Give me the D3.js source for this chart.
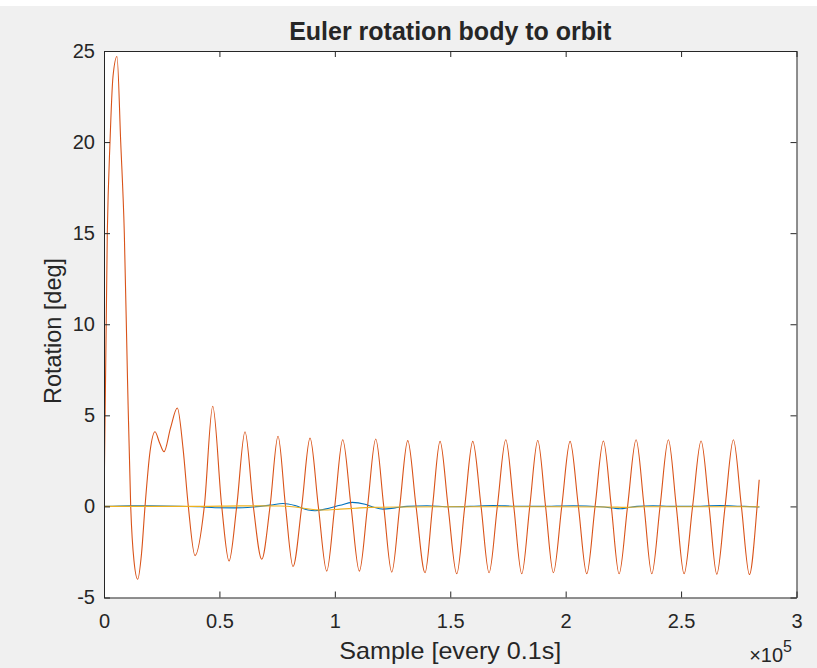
<!DOCTYPE html>
<html><head><meta charset="utf-8">
<script src="https://cdn.jsdelivr.net/npm/d3@7"></script>
<style>
html,body{margin:0;padding:0;background:#ffffff;}
svg{display:block;}
text{font-family:"Liberation Sans",Arial,Helvetica,sans-serif;fill:#262626;}
</style></head>
<body><svg id="chart" width="817" height="668"></svg>
<script>
// ---- data (x in samples, y in degrees) ----
const xTicks = [0, 50000, 100000, 150000, 200000, 250000, 300000];
const xTickLabels = ["0", "0.5", "1", "1.5", "2", "2.5", "3"];
const yTicks = [-5, 0, 5, 10, 15, 20, 25];
const yTickLabels = ["-5", "0", "5", "10", "15", "20", "25"];

const orangeX = [0,1430,2600,3900,5630,7240,8800,10180,11570,13000,14600,16250,17770,19930,22100,24050,26000,28810,31760,34230,36530,39430,43460,47100,51000,54160,57500,61090,64690,68330,71930,75390,78640,81890,85660,89260,92850,96490,99960,103420,107020,110620,114170,117720,121190,124660,128120,131590,135180,139080,142330,145580,149050,152820,156290,159750,163350,166810,170410,174050,177520,180980,184450,187910,191290,194670,198310,201910,205510,209140,212740,216340,219760,223140,226820,230510,233970,237310,240900,244500,247920,251300,254990,258670,262130,265470,269070,272660,276130,279600,282930,283840];
const orangeY = [0,15,20,23.6,24.7,20,15,7,0,-3,-4.0,-2.6,0,3.0,4.1,3.5,3.0,4.3,5.4,3.2,0,-2.7,0,5.5,0,-3.0,0,4.1,0,-2.9,0,3.85,0,-3.3,0,3.75,0,-3.55,0,3.66,0,-3.55,0,3.7,0,-3.61,0,3.61,0,-3.64,0,3.57,0,-3.7,0,3.57,0,-3.64,0,3.66,0,-3.7,0,3.62,0,-3.64,0,3.57,0,-3.7,0,3.59,0,-3.7,0,3.66,0,-3.7,0,3.66,0,-3.7,0,3.59,0,-3.72,0,3.66,0,-3.74,0,1.47];

const blueX = [0,11270,19930,32930,41600,48090,56760,64560,71930,77560,82760,88390,91420,95760,102250,107450,113090,116550,120890,126080,131280,139950,149910,158580,168550,178080,188910,203210,214910,220540,223570,227910,230940,237870,245240,253900,266900,275570,283930];
const blueY = [0,0.04,0.03,0,-0.02,-0.07,-0.08,-0.03,0.07,0.16,0.05,-0.2,-0.24,-0.15,0.06,0.22,0.12,-0.03,-0.15,-0.08,0,0.04,-0.02,0,0.05,0.01,0,0.04,-0.02,-0.09,-0.13,-0.05,0,0.04,0,0,0.05,0.01,-0.03];

const yellowX = [0,41600,58930,76260,82760,90560,94890,102250,108750,115250,128250,149910,171580,219240,225740,234410,283930];
const yellowY = [0,0,0.03,0.02,-0.03,-0.17,-0.2,-0.15,-0.1,-0.05,-0.03,-0.02,-0.02,-0.03,-0.05,-0.02,-0.02];

const seriesColors = ["#0072BD", "#D95319", "#EDB120"];

// ---- layout ----
const W = 817, H = 668;
const svg = d3.select("#chart");
svg.append("rect").attr("x", 0).attr("y", 6).attr("width", W).attr("height", H - 6).attr("fill", "#f0f0f0");

const L = 104, R = 796.5, T = 51, B = 597.5;
const x = d3.scaleLinear().domain([0, 300000]).range([L, R]);
const y = d3.scaleLinear().domain([-5, 25]).range([B, T]);

svg.append("rect").attr("x", L).attr("y", T).attr("width", R - L).attr("height", B - T).attr("fill", "#ffffff");

// lines
svg.append("clipPath").attr("id", "clip").append("rect")
  .attr("x", L).attr("y", T).attr("width", R - L).attr("height", B - T);
const line = d3.line().x(d => x(d[0])).y(d => y(d[1])).curve(d3.curveMonotoneX);
const series = [
  d3.zip(blueX, blueY),
  d3.zip(orangeX, orangeY),
  d3.zip(yellowX, yellowY)
];
const g = svg.append("g").attr("clip-path", "url(#clip)");
series.forEach((s, i) => {
  g.append("path").datum(s).attr("d", line)
    .attr("fill", "none").attr("stroke", seriesColors[i])
    .attr("stroke-width", 1.1).attr("stroke-linejoin", "round");
});

// axes (MATLAB style box with inner ticks)
const axColor = "#262626";
const tickLen = 6;
const xAxisB = d3.axisBottom(x).tickValues(xTicks).tickFormat((d, i) => xTickLabels[i]).tickSizeInner(-tickLen).tickSizeOuter(0).tickPadding(16);
const xAxisT = d3.axisTop(x).tickValues(xTicks).tickFormat("").tickSizeInner(-tickLen).tickSizeOuter(0);
const yAxisL = d3.axisLeft(y).tickValues(yTicks).tickFormat((d, i) => yTickLabels[i]).tickSizeInner(-tickLen).tickSizeOuter(0).tickPadding(9);
const yAxisR = d3.axisRight(y).tickValues(yTicks).tickFormat("").tickSizeInner(-tickLen).tickSizeOuter(0);

function style(sel) {
  sel.select(".domain").attr("stroke", axColor).attr("stroke-width", 1);
  sel.selectAll(".tick line").attr("stroke", axColor).attr("stroke-width", 1);
  sel.selectAll(".tick text").attr("fill", axColor).style("font-size", "20px")
    .style("font-family", "'Liberation Sans',Arial,sans-serif");
}
svg.append("g").attr("transform", `translate(0,${B})`).call(xAxisB).call(style);
svg.append("g").attr("transform", `translate(0,${T})`).call(xAxisT).call(style);
svg.append("g").attr("transform", `translate(${L},0)`).call(yAxisL).call(style);
svg.append("g").attr("transform", `translate(${R},0)`).call(yAxisR).call(style);

// title and labels
svg.append("text").attr("x", (L + R) / 2).attr("y", 40).attr("text-anchor", "middle")
  .style("font-size", "25px").style("font-weight", "bold").text("Euler rotation body to orbit");
svg.append("text").attr("x", (L + R) / 2).attr("y", 659).attr("text-anchor", "middle")
  .style("font-size", "24px").attr("textLength", 222).attr("lengthAdjust", "spacingAndGlyphs")
  .text("Sample [every 0.1s]");
svg.append("text").attr("transform", `translate(61,331) rotate(-90)`).attr("text-anchor", "middle")
  .style("font-size", "24px").attr("textLength", 146).attr("lengthAdjust", "spacingAndGlyphs")
  .text("Rotation [deg]");
const ex = svg.append("text").attr("x", 792).attr("y", 662).attr("text-anchor", "end").style("font-size", "20px");
ex.append("tspan").text("\u00d710");
ex.append("tspan").attr("dy", -10).style("font-size", "16px").text("5");
</script></body></html>
